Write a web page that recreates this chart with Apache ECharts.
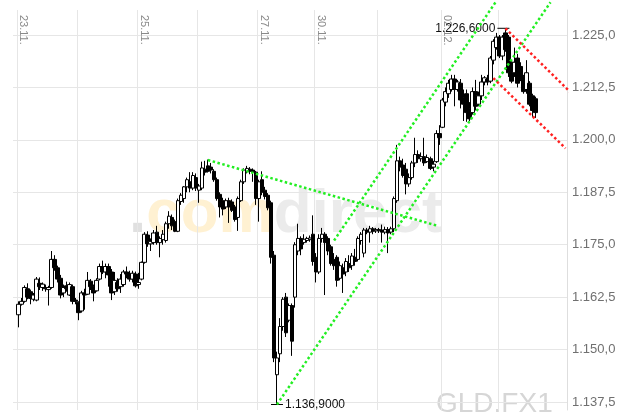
<!DOCTYPE html>
<html><head><meta charset="utf-8">
<script src="https://cdn.jsdelivr.net/npm/echarts@6/dist/echarts.min.js"></script>
<style>html,body{margin:0;padding:0;background:#fff}#c{width:628px;height:418px}</style>
</head><body><div id="c"></div>
<script>
// ---- data ----
const days = ['23.11.','24.11.','25.11.','26.11.','27.11.','30.11.','01.12.','02.12.','03.12.'];
const barsPerDay = [20,20,20,20,19,21,21,19,13];
const labeledDays = ['23.11.','25.11.','27.11.','30.11.','02.12.'];
const emptySlots = 10;

const opens = [1158.3,1160.8,1161.5,1164.5,1163.8,1162.0,1161.8,1165.8,1164.8,1164.8,
 1164.3,1164.8,1171.5,1169.5,1167.0,1163.5,1165.2,1163.0,1165.0,1161.8,
 1161.3,1159.2,1163.5,1163.2,1166.3,1165.0,1164.0,1166.8,1169.8,1168.5,
 1169.8,1168.5,1163.8,1166.0,1165.0,1165.5,1168.5,1168.0,1166.8,1168.0,
 1165.5,1166.8,1170.8,1177.3,1175.2,1175.5,1178.0,1175.5,1176.2,1176.0,
 1180.0,1181.5,1180.5,1178.2,1185.3,1186.0,1188.8,1190.0,1188.5,1191.0,
 1188.0,1188.5,1193.0,1193.8,1193.5,1192.5,1190.5,1187.0,1185.5,1184.0,
 1185.5,1185.2,1184.0,1181.5,1185.5,1190.0,1192.5,1193.0,1192.8,1192.3,
 1186.0,1190.5,1188.0,1186.8,1185.0,1172.5,1144.0,1149.0,1155.5,1162.5,
 1157.0,1160.5,1162.5,1173.5,1176.5,1175.5,1176.0,1176.2,1177.5,1172.0,
 1168.5,1176.5,1177.5,1176.5,1174.5,1171.5,1172.0,1167.0,1169.5,1168.5,
 1170.5,1170.0,1172.0,1171.5,1176.0,1173.0,1178.5,1178.0,1178.8,1178.3,
 1178.6,1178.5,1178.0,1178.6,1178.0,1178.8,1185.5,1195.0,1194.0,1193.0,
 1189.5,1191.0,1194.5,1196.5,1195.5,1196.0,1194.8,1195.5,1193.5,1194.8,
 1201.5,1203.0,1209.0,1211.0,1212.0,1214.5,1212.0,1213.5,1210.0,1211.0,
 1207.5,1206.5,1211.5,1208.5,1210.5,1213.8,1214.5,1214.0,1219.0,1222.0,
 1224.5,1220.0,1225.5,1224.5,1218.5,1216.0,1219.5,1217.5,1215.0,1212.0,
 1213.5,1210.5,1209.8];
const closes = [1160.8,1161.5,1164.8,1162.5,1162.2,1163.0,1166.8,1165.0,1165.6,1164.5,
 1164.8,1171.5,1169.5,1166.8,1163.0,1164.8,1164.5,1165.5,1161.5,1161.5,
 1158.8,1163.5,1163.0,1166.5,1165.0,1163.5,1166.5,1169.8,1168.5,1169.8,
 1167.8,1163.5,1166.5,1164.5,1166.8,1168.5,1168.0,1166.8,1168.2,1165.2,
 1166.0,1170.8,1177.5,1175.2,1175.8,1177.8,1175.5,1176.5,1177.5,1180.0,
 1181.8,1179.5,1178.2,1185.5,1186.8,1188.8,1190.5,1188.5,1191.5,1188.5,
 1189.0,1193.3,1192.3,1192.5,1192.8,1190.5,1186.0,1184.0,1183.5,1185.5,
 1184.0,1183.2,1181.0,1186.0,1190.0,1192.8,1193.2,1192.5,1192.3,1186.0,
 1190.0,1187.5,1186.5,1183.8,1172.0,1148.0,1148.0,1155.5,1162.0,1154.0,
 1160.5,1152.0,1175.0,1176.5,1174.0,1176.3,1176.5,1176.6,1171.0,1168.5,
 1176.5,1177.5,1175.5,1173.5,1170.5,1170.0,1166.5,1170.0,1168.0,1171.0,
 1169.5,1172.3,1171.0,1176.5,1177.5,1178.5,1178.0,1178.8,1178.2,1178.6,
 1178.3,1178.0,1178.6,1177.8,1178.8,1186.0,1195.0,1193.5,1191.5,1189.5,
 1191.0,1194.5,1196.5,1195.5,1196.0,1194.5,1195.8,1193.2,1194.2,1201.5,
 1200.5,1209.5,1211.5,1213.5,1214.5,1212.0,1213.8,1209.5,1208.5,1206.5,
 1205.0,1211.5,1208.0,1210.5,1213.8,1214.8,1213.8,1219.5,1223.5,1224.5,
 1220.0,1224.5,1221.5,1216.0,1214.0,1218.5,1213.5,1214.5,1211.5,1216.0,
 1208.5,1207.0,1206.5];
const lows = [1155.3,1160.5,1161.2,1162.0,1160.8,1161.5,1161.5,1164.2,1164.0,1163.8,
 1160.5,1164.5,1168.8,1166.0,1162.2,1162.5,1163.8,1162.8,1160.8,1160.8,
 1157.0,1158.8,1159.5,1163.0,1164.2,1161.5,1163.8,1166.5,1168.0,1167.0,
 1165.0,1161.8,1163.0,1163.8,1163.5,1165.0,1167.0,1166.2,1166.0,1164.8,
 1164.5,1166.5,1170.5,1174.5,1173.5,1175.0,1175.0,1172.0,1175.0,1175.5,
 1178.8,1178.5,1178.0,1178.0,1184.5,1185.0,1187.5,1187.5,1188.0,1187.8,
 1185.0,1188.0,1191.5,1192.2,1192.0,1190.0,1185.5,1181.5,1182.0,1183.5,
 1180.2,1182.8,1180.5,1178.3,1185.2,1189.5,1192.0,1191.8,1190.0,1184.5,
 1180.5,1186.8,1185.8,1183.2,1170.5,1147.0,1136.9,1147.0,1154.5,1153.0,
 1156.5,1148.5,1160.0,1172.5,1172.5,1175.0,1175.5,1175.7,1170.0,1166.0,
 1168.0,1175.5,1163.0,1172.5,1170.0,1169.0,1165.0,1166.5,1163.5,1167.5,
 1168.5,1169.0,1170.0,1171.0,1175.0,1172.0,1177.5,1175.5,1177.5,1177.8,
 1177.8,1175.5,1177.5,1173.0,1177.5,1178.0,1185.0,1192.5,1191.0,1187.0,
 1188.8,1190.5,1193.5,1194.5,1194.8,1193.8,1194.5,1192.8,1192.5,1194.5,
 1198.8,1202.8,1208.0,1210.0,1211.5,1208.0,1211.5,1207.5,1204.5,1204.3,
 1204.5,1206.0,1207.0,1208.0,1209.5,1213.0,1213.0,1213.5,1218.0,1221.5,
 1219.5,1219.0,1221.0,1215.0,1213.5,1215.0,1212.5,1214.0,1211.0,1211.0,
 1208.0,1205.5,1205.2];
const highs = [1161.5,1162.3,1165.3,1165.8,1164.3,1163.5,1167.3,1167.2,1166.0,1165.5,
 1165.2,1173.5,1172.5,1170.0,1167.8,1165.5,1166.2,1166.0,1165.5,1162.3,
 1161.5,1164.0,1164.5,1168.5,1166.8,1165.5,1167.0,1170.5,1171.2,1170.5,
 1170.5,1169.2,1168.5,1167.0,1168.0,1169.0,1169.8,1168.8,1168.8,1168.6,
 1168.3,1171.0,1178.0,1178.2,1176.5,1178.5,1179.5,1177.0,1178.5,1180.5,
 1183.0,1182.2,1181.0,1186.0,1187.3,1189.0,1191.0,1192.3,1192.3,1192.0,
 1189.5,1194.8,1195.0,1195.3,1194.5,1193.0,1191.0,1187.5,1186.2,1186.0,
 1186.2,1185.8,1184.5,1186.5,1190.5,1193.2,1193.8,1193.5,1193.2,1192.6,
 1190.5,1192.5,1188.8,1187.3,1185.5,1173.5,1149.5,1157.5,1162.5,1163.5,
 1161.0,1161.0,1175.6,1180.0,1177.0,1177.5,1176.9,1177.2,1182.0,1173.0,
 1177.5,1179.0,1178.0,1177.0,1175.0,1173.0,1172.5,1171.0,1170.5,1171.8,
 1172.5,1173.0,1174.0,1177.0,1178.0,1179.0,1179.0,1179.5,1179.2,1179.0,
 1179.0,1179.8,1179.3,1179.2,1179.3,1186.5,1198.8,1196.0,1195.5,1194.5,
 1192.0,1195.0,1200.5,1197.5,1197.0,1200.5,1196.5,1196.0,1195.0,1202.3,
 1203.5,1210.0,1212.5,1214.3,1215.5,1215.5,1214.3,1214.5,1212.0,1212.0,
 1209.0,1212.5,1214.3,1211.5,1215.5,1215.2,1215.5,1220.0,1224.0,1225.5,
 1225.0,1225.0,1226.6,1225.0,1219.0,1222.0,1220.5,1218.5,1215.5,1219.0,
 1214.0,1211.0,1210.3];

// trend lines: [barIndex, price] endpoints
const greenLines = [
  [[63, 1195.2], [139, 1179.6]],
  [[105, 1176.0], [159, 1233.1]],
  [[86, 1136.9], [177, 1232.8]]
];
const redLines = [
  [[162, 1226.6], [187, 1209.0]],
  [[158, 1214.7], [182, 1198.0]]
];
const yTickMin = 1137.5, yTickMax = 1225.0, yTickStep = 12.5;

// ---- build ----
const categories = [];
const dayStartIdx = [];
const labelIdx = new Set();
days.forEach((d, k) => {
  dayStartIdx.push(categories.length);
  if (labeledDays.includes(d)) labelIdx.add(categories.length);
  for (let j = 0; j < barsPerDay[k]; j++) categories.push(d + '#' + j);
});
for (let j = 0; j < emptySlots; j++) categories.push('x#' + j);
const dayStartSet = new Set(dayStartIdx);

const candles = opens.map((o, i) => [o, closes[i], lows[i], highs[i]]);
let hiIdx = 0, loIdx = 0;
highs.forEach((v, i) => { if (v > highs[hiIdx]) hiIdx = i; });
lows.forEach((v, i) => { if (v < lows[loIdx]) loIdx = i; });

function fmt(v, d) {
  const s = v.toFixed(d);
  const parts = s.split('.');
  return parts[0].replace(/\B(?=(\d{3})+(?!\d))/g, '.') + (parts[1] ? ',' + parts[1] : '');
}

// pixel scale: 1225 at y=35, 1137.5 at y=402
const G1_TOP = 35, G1_H = 367;
const PX = G1_H / (yTickMax - yTickMin);
const g0Top = 10, g0H = 400;
const g0Max = yTickMax + (G1_TOP - g0Top) / PX;
const g0Min = yTickMax - (g0Top + g0H - G1_TOP) / PX;

const FONT = 'Arial, "Liberation Sans", Helvetica, sans-serif';

function trend(pts, color) {
  return {
    type: 'line', xAxisIndex: 0, yAxisIndex: 0, data: pts, symbol: 'none',
    clip: false, silent: true, z: 5,
    lineStyle: { color: color, width: 2.5, type: 'dotted', cap: 'butt' }
  };
}

const chart = echarts.init(document.getElementById('c'), null, { renderer: 'canvas' });
chart.setOption({
  animation: false,
  backgroundColor: '#fff',
  grid: [
    { left: 17, right: 61, top: g0Top, height: g0H },
    { left: 13, right: 61, top: G1_TOP, height: G1_H }
  ],
  xAxis: [
    {
      type: 'category', gridIndex: 0, data: categories, position: 'top',
      boundaryGap: true,
      axisLine: { show: false }, axisTick: { show: false },
      axisLabel: {
        inside: true, rotate: 90, margin: 5, fontSize: 11, color: '#8a8a8a',
        fontFamily: FONT, verticalAlign: 'bottom', lineHeight: 10,
        interval: (i) => labelIdx.has(i),
        formatter: (v) => v.split('#')[0]
      },
      splitLine: { show: true, interval: (i) => dayStartSet.has(i), lineStyle: { color: '#e6e6e6', width: 1 } }
    },
    { type: 'value', gridIndex: 1, show: false, min: 0, max: 1 }
  ],
  yAxis: [
    {
      type: 'value', gridIndex: 0, position: 'right', min: g0Min, max: g0Max, scale: true,
      axisLine: { show: true, lineStyle: { color: '#dedede' } },
      axisTick: { show: false }, axisLabel: { show: false }, splitLine: { show: false }
    },
    {
      type: 'value', gridIndex: 1, position: 'right', min: yTickMin, max: yTickMax, interval: yTickStep,
      axisLine: { show: false }, axisTick: { show: false },
      axisLabel: { margin: 5, fontSize: 13, color: '#707070', fontFamily: FONT, formatter: (v) => fmt(v, 1) },
      splitLine: { show: true, lineStyle: { color: '#e6e6e6', width: 1 } }
    }
  ],
  graphic: [
    {
      type: 'text', left: 129, top: 184, z: -10, silent: true,
      style: {
        text: '{d|.}{a|com}{b|direct}',
        rich: {
          d: { fill: '#e0e0e0', fontSize: 62, fontWeight: 'bold', fontFamily: FONT },
          a: { fill: '#fff1d2', fontSize: 62, fontWeight: 'bold', fontFamily: FONT },
          b: { fill: '#ebebeb', fontSize: 62, fontWeight: 'bold', fontFamily: FONT }
        }
      }
    },
    {
      type: 'text', left: 436, top: 390, z: -10, silent: true,
      style: { text: 'GLD.FX1', fill: '#d6d6d6', fontSize: 28, fontFamily: FONT }
    }
  ],
  series: [
    {
      type: 'candlestick', xAxisIndex: 0, yAxisIndex: 0, data: candles,
      barWidth: 4, z: 4,
      itemStyle: { color: '#fff', color0: '#000', borderColor: '#000', borderColor0: '#000', borderWidth: 1 },
      markPoint: {
        symbol: 'rect', symbolSize: [12, 1], silent: true,
        itemStyle: { color: '#000' },
        label: { color: '#111', fontSize: 12, fontFamily: FONT, distance: 2 },
        data: [
          { coord: [hiIdx, highs[hiIdx]], symbolOffset: [-2, 0], label: { position: 'left', formatter: fmt(highs[hiIdx], 4) } },
          { coord: [loIdx, lows[loIdx]], label: { position: 'right', formatter: fmt(lows[loIdx], 4) } }
        ]
      }
    },
    ...greenLines.map(p => trend(p, '#22ee22')),
    ...redLines.map(p => trend(p, '#ff2020'))
  ]
});
</script>
</body></html>
